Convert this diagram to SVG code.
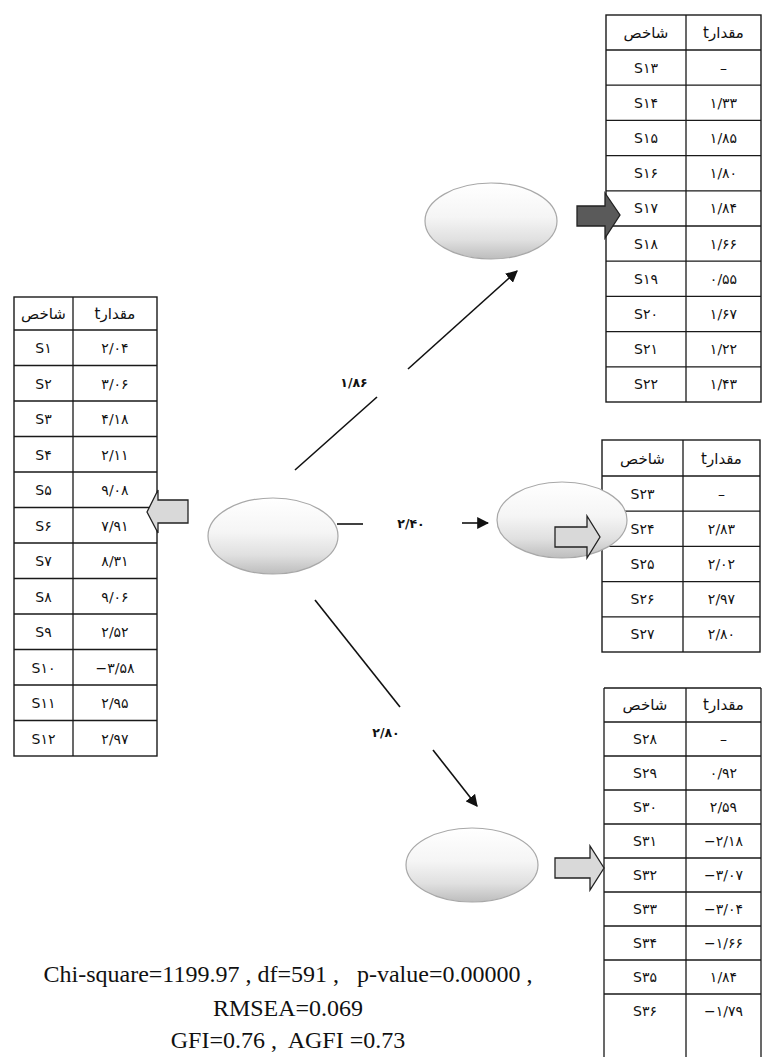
<svg xmlns="http://www.w3.org/2000/svg" width="762" height="1057" viewBox="0 0 762 1057">
<style>
.bg{fill:#fff}
.tb{fill:#fff;stroke:#1a1a1a;stroke-width:1.4}
.ln{stroke:#1a1a1a;stroke-width:1.3;fill:none}
.c{font-family:"DejaVu Sans","Noto Sans",sans-serif;font-size:14px;fill:#111;text-anchor:middle}
.h{font-family:"DejaVu Sans","Noto Sans",sans-serif;font-size:15px;fill:#111;text-anchor:middle}
.lab{font-family:"DejaVu Sans","Noto Sans",sans-serif;font-size:12.5px;font-weight:bold;fill:#111;text-anchor:middle}
.st{font-family:"Liberation Serif","Times New Roman",serif;font-size:24px;fill:#111;white-space:pre;text-anchor:middle}
.ell{fill:url(#eg);stroke:#a8a8a8;stroke-width:1.2}
.conn{stroke:#111;stroke-width:1.6;fill:none}
.hollow{fill:#d9d9d9;stroke:#222;stroke-width:1.3}
.dark{fill:#5a5a5a;stroke:#222;stroke-width:1.3}
</style>
<defs>
<linearGradient id="eg" x1="0" y1="0" x2="0" y2="1">
<stop offset="0" stop-color="#ffffff"/>
<stop offset="0.45" stop-color="#f5f5f5"/>
<stop offset="0.75" stop-color="#e0e0e0"/>
<stop offset="1" stop-color="#bdbdbd"/>
</linearGradient>
<marker id="ah" viewBox="0 0 10 10" refX="9" refY="5" markerWidth="12" markerHeight="12" markerUnits="userSpaceOnUse" orient="auto">
<path d="M0,0 L10,5 L0,10 z" fill="#111"/>
</marker>
</defs>
<rect class="bg" x="0" y="0" width="762" height="1057"/>

<!-- Left table S1-S12 -->
<g id="table-s1-s12">
<rect class="tb" x="14" y="297" width="143" height="459"/>
<path class="ln" d="M73,297V756 M14,330H157 M14,365.5H157 M14,401H157 M14,436.5H157 M14,472H157 M14,507.5H157 M14,543H157 M14,578.5H157 M14,614H157 M14,649.5H157 M14,685H157 M14,720.5H157"/>
<text class="h" x="43.5" y="319">شاخص</text>
<text class="h" x="115" y="319" direction="rtl" unicode-bidi="embed">مقدارt</text>
<text class="c" x="43.5" y="353">S۱</text><text class="c" x="115" y="353">۲/۰۴</text>
<text class="c" x="43.5" y="388.5">S۲</text><text class="c" x="115" y="388.5">۳/۰۶</text>
<text class="c" x="43.5" y="424">S۳</text><text class="c" x="115" y="424">۴/۱۸</text>
<text class="c" x="43.5" y="459.5">S۴</text><text class="c" x="115" y="459.5">۲/۱۱</text>
<text class="c" x="43.5" y="495">S۵</text><text class="c" x="115" y="495">۹/۰۸</text>
<text class="c" x="43.5" y="530.5">S۶</text><text class="c" x="115" y="530.5">۷/۹۱</text>
<text class="c" x="43.5" y="566">S۷</text><text class="c" x="115" y="566">۸/۳۱</text>
<text class="c" x="43.5" y="601.5">S۸</text><text class="c" x="115" y="601.5">۹/۰۶</text>
<text class="c" x="43.5" y="637">S۹</text><text class="c" x="115" y="637">۲/۵۲</text>
<text class="c" x="43.5" y="672.5">S۱۰</text><text class="c" x="115" y="672.5">−۳/۵۸</text>
<text class="c" x="43.5" y="708">S۱۱</text><text class="c" x="115" y="708">۲/۹۵</text>
<text class="c" x="43.5" y="743.5">S۱۲</text><text class="c" x="115" y="743.5">۲/۹۷</text>
</g>

<!-- Top-right table S13-S22 -->
<g id="table-s13-s22">
<rect class="tb" x="606" y="15" width="155" height="387"/>
<path class="ln" d="M686,15V402 M606,50H761 M606,85.2H761 M606,120.4H761 M606,155.6H761 M606,190.8H761 M606,226H761 M606,261.2H761 M606,296.4H761 M606,331.6H761 M606,366.8H761"/>
<text class="h" x="646" y="38">شاخص</text>
<text class="h" x="723.5" y="38" direction="rtl" unicode-bidi="embed">مقدارt</text>
<text class="c" x="646" y="72.5">S۱۳</text><text class="c" x="723.5" y="72.5">–</text>
<text class="c" x="646" y="107.7">S۱۴</text><text class="c" x="723.5" y="107.7">۱/۳۳</text>
<text class="c" x="646" y="142.9">S۱۵</text><text class="c" x="723.5" y="142.9">۱/۸۵</text>
<text class="c" x="646" y="178.1">S۱۶</text><text class="c" x="723.5" y="178.1">۱/۸۰</text>
<text class="c" x="646" y="213.3">S۱۷</text><text class="c" x="723.5" y="213.3">۱/۸۴</text>
<text class="c" x="646" y="248.5">S۱۸</text><text class="c" x="723.5" y="248.5">۱/۶۶</text>
<text class="c" x="646" y="283.7">S۱۹</text><text class="c" x="723.5" y="283.7">۰/۵۵</text>
<text class="c" x="646" y="318.9">S۲۰</text><text class="c" x="723.5" y="318.9">۱/۶۷</text>
<text class="c" x="646" y="354.1">S۲۱</text><text class="c" x="723.5" y="354.1">۱/۲۲</text>
<text class="c" x="646" y="389.3">S۲۲</text><text class="c" x="723.5" y="389.3">۱/۴۳</text>
</g>

<!-- Middle table S23-S27 -->
<g id="table-s23-s27">
<rect class="tb" x="602" y="440" width="158" height="212"/>
<path class="ln" d="M683,440V652 M602,476H760 M602,511.2H760 M602,546.4H760 M602,581.6H760 M602,616.8H760"/>
<text class="h" x="642.5" y="464">شاخص</text>
<text class="h" x="721.5" y="464" direction="rtl" unicode-bidi="embed">مقدارt</text>
<text class="c" x="642.5" y="498.6">S۲۳</text><text class="c" x="721.5" y="498.6">–</text>
<text class="c" x="642.5" y="533.8">S۲۴</text><text class="c" x="721.5" y="533.8">۲/۸۳</text>
<text class="c" x="642.5" y="569">S۲۵</text><text class="c" x="721.5" y="569">۲/۰۲</text>
<text class="c" x="642.5" y="604.2">S۲۶</text><text class="c" x="721.5" y="604.2">۲/۹۷</text>
<text class="c" x="642.5" y="639.4">S۲۷</text><text class="c" x="721.5" y="639.4">۲/۸۰</text>
</g>

<!-- Bottom table S28-S36 -->
<g id="table-s28-s36">
<path class="ln" d="M604,688V1057 M686,688V1057 M761,688V1057 M604,688H761 M604,722H761 M604,756H761 M604,790H761 M604,824H761 M604,858H761 M604,892H761 M604,926H761 M604,960H761 M604,994H761"/>
<text class="h" x="645" y="710">شاخص</text>
<text class="h" x="723.5" y="710" direction="rtl" unicode-bidi="embed">مقدارt</text>
<text class="c" x="645" y="744">S۲۸</text><text class="c" x="723.5" y="744">–</text>
<text class="c" x="645" y="778">S۲۹</text><text class="c" x="723.5" y="778">۰/۹۲</text>
<text class="c" x="645" y="812">S۳۰</text><text class="c" x="723.5" y="812">۲/۵۹</text>
<text class="c" x="645" y="846">S۳۱</text><text class="c" x="723.5" y="846">−۲/۱۸</text>
<text class="c" x="645" y="880">S۳۲</text><text class="c" x="723.5" y="880">−۳/۰۷</text>
<text class="c" x="645" y="914">S۳۳</text><text class="c" x="723.5" y="914">−۳/۰۴</text>
<text class="c" x="645" y="948">S۳۴</text><text class="c" x="723.5" y="948">−۱/۶۶</text>
<text class="c" x="645" y="982">S۳۵</text><text class="c" x="723.5" y="982">۱/۸۴</text>
<text class="c" x="645" y="1016">S۳۶</text><text class="c" x="723.5" y="1016">−۱/۷۹</text>
</g>

<!-- Ellipse nodes -->
<g id="node-center"><ellipse class="ell" cx="273" cy="536" rx="65" ry="38"/></g>
<g id="node-top"><ellipse class="ell" cx="491" cy="221" rx="66" ry="38"/></g>
<g id="node-middle"><ellipse class="ell" cx="562" cy="520" rx="65" ry="38"/></g>
<g id="node-bottom"><ellipse class="ell" cx="472" cy="865" rx="66" ry="37"/></g>

<!-- Connectors -->
<g id="connectors">
<path class="conn" d="M295,470 L377,397"/>
<path class="conn" d="M408,369 L517,271" marker-end="url(#ah)"/>
<text class="lab" x="354" y="387">۱/۸۶</text>
<path class="conn" d="M337,524 L363,524"/>
<text class="lab" x="411" y="528">۲/۴۰</text>
<path class="conn" d="M462,523 L488,523" marker-end="url(#ah)"/>
<path class="conn" d="M315,600 L400,707"/>
<text class="lab" x="386" y="737">۲/۸۰</text>
<path class="conn" d="M433,750 L477,806" marker-end="url(#ah)"/>
<!-- block arrows -->
<path class="hollow" d="M147,512 L158,490 L158,500 L188,500 L188,523 L158,523 L158,533 z"/>
<path class="dark" d="M577,206 L605,206 L605,193 L620,215 L605,238 L605,226 L577,226 z"/>
<path class="hollow" d="M555,527 L587,527 L587,516 L600,537 L587,558 L587,547 L555,547 z"/>
<path class="hollow" d="M555,858 L590,858 L590,846 L604,868 L590,890 L590,878 L555,878 z"/>
</g>

<!-- Fit statistics -->
<g id="fit-stats">
<text class="st" x="288" y="982">Chi-square=1199.97 , df=591 ,   p-value=0.00000 ,</text>
<text class="st" x="288" y="1016">RMSEA=0.069</text>
<text class="st" x="288" y="1048">GFI=0.76 ,  AGFI =0.73</text>
</g>
</svg>
